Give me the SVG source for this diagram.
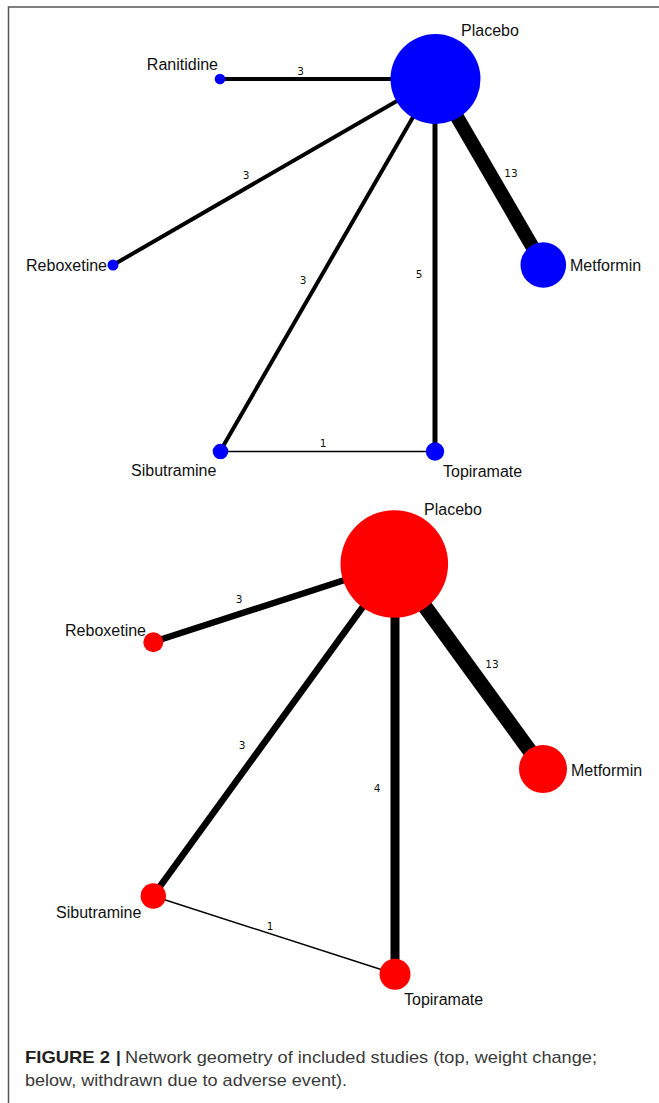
<svg xmlns="http://www.w3.org/2000/svg" width="659" height="1103" viewBox="0 0 659 1103">
<style>
.lbl{font-family:"Liberation Sans",Arial,sans-serif;font-size:16px;fill:#111}
.el{font-family:"DejaVu Sans",Verdana,sans-serif;font-size:10.5px;fill:#111;text-anchor:middle}
.e{stroke:#000;fill:none;stroke-linecap:butt}
.b{fill:#0000FF}
.r{fill:#FF0000}
.cap{font-family:"Liberation Sans",Arial,sans-serif;font-size:17px;fill:#231f20}
.capn{fill:#3a3a3a}
</style>
<rect width="659" height="1103" fill="#fff"/>
<path d="M8.5,1103 V7 H659" fill="none" stroke="#555" stroke-width="1.5"/>

<g id="connectors">
  <!-- top network -->
  <line class="e" x1="220" y1="79" x2="435" y2="79" stroke-width="4"/>
  <line class="e" x1="113" y1="265" x2="435" y2="79" stroke-width="4"/>
  <line class="e" x1="220" y1="451.5" x2="435" y2="79" stroke-width="4"/>
  <line class="e" x1="435" y1="79" x2="435" y2="451.5" stroke-width="5"/>
  <line class="e" x1="435" y1="79" x2="543" y2="265" stroke-width="14"/>
  <line class="e" x1="220" y1="451.5" x2="435" y2="451.5" stroke-width="1.5"/>
  <text class="el" x="300.5" y="75">3</text>
  <text class="el" x="246" y="179">3</text>
  <text class="el" x="303" y="284">3</text>
  <text class="el" x="419" y="278">5</text>
  <text class="el" x="511" y="177">13</text>
  <text class="el" x="323" y="447">1</text>
  <!-- bottom network -->
  <line class="e" x1="153" y1="642" x2="394" y2="564" stroke-width="6.5"/>
  <line class="e" x1="153" y1="896" x2="394" y2="564" stroke-width="6.5"/>
  <line class="e" x1="395" y1="564" x2="395" y2="974" stroke-width="9"/>
  <line class="e" x1="394" y1="564" x2="543" y2="769" stroke-width="15"/>
  <line class="e" x1="153" y1="896" x2="395" y2="974" stroke-width="1.5"/>
  <text class="el" x="239" y="603">3</text>
  <text class="el" x="492" y="668">13</text>
  <text class="el" x="242" y="749">3</text>
  <text class="el" x="377" y="792">4</text>
  <text class="el" x="270" y="930">1</text>
</g>

<g id="top-placebo"><circle class="b" cx="435.5" cy="79" r="45"/><text class="lbl" x="461" y="36">Placebo</text></g>
<g id="top-ranitidine"><circle class="b" cx="220" cy="79" r="5.3"/><text class="lbl" x="218" y="70" text-anchor="end">Ranitidine</text></g>
<g id="top-reboxetine"><circle class="b" cx="113" cy="265" r="5.5"/><text class="lbl" x="107" y="271" text-anchor="end">Reboxetine</text></g>
<g id="top-metformin"><circle class="b" cx="543.3" cy="265" r="22.8"/><text class="lbl" x="570" y="271">Metformin</text></g>
<g id="top-sibutramine"><circle class="b" cx="220.5" cy="451.5" r="7.8"/><text class="lbl" x="131" y="476">Sibutramine</text></g>
<g id="top-topiramate"><circle class="b" cx="435" cy="451.5" r="9.2"/><text class="lbl" x="443" y="477">Topiramate</text></g>

<g id="bot-placebo"><circle class="r" cx="394.3" cy="564" r="53.8"/><text class="lbl" x="424" y="515">Placebo</text></g>
<g id="bot-reboxetine"><circle class="r" cx="153.3" cy="642.3" r="10"/><text class="lbl" x="146" y="636" text-anchor="end">Reboxetine</text></g>
<g id="bot-metformin"><circle class="r" cx="543" cy="769" r="24"/><text class="lbl" x="571" y="776">Metformin</text></g>
<g id="bot-sibutramine"><circle class="r" cx="153.3" cy="896" r="12.7"/><text class="lbl" x="56" y="918">Sibutramine</text></g>
<g id="bot-topiramate"><circle class="r" cx="395" cy="974.3" r="15.5"/><text class="lbl" x="404" y="1005">Topiramate</text></g>

<g id="caption">
  <text class="cap" x="25" y="1063" font-weight="bold" textLength="85" lengthAdjust="spacingAndGlyphs">FIGURE 2</text>
  <text class="cap" x="116" y="1063" font-weight="bold">|</text>
  <text class="cap capn" x="125" y="1063" textLength="472" lengthAdjust="spacingAndGlyphs">Network geometry of included studies (top, weight change;</text>
  <text class="cap capn" x="25" y="1086" textLength="322" lengthAdjust="spacingAndGlyphs">below, withdrawn due to adverse event).</text>
</g>
</svg>
